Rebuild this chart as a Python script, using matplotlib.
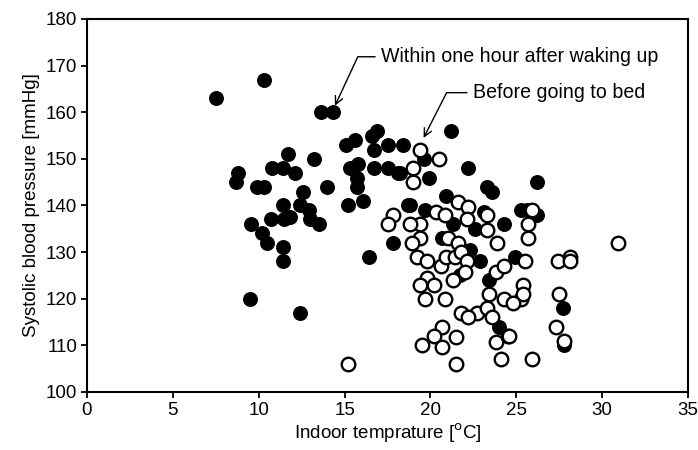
import matplotlib
matplotlib.use("Agg")
import matplotlib.pyplot as plt

plt.rcParams['font.family'] = ['Liberation Sans', 'DejaVu Sans']

# Within one hour after waking up (filled)
wake_x = [7.5, 10.3, 8.8, 8.7, 9.9, 10.3, 10.8, 11.4, 11.7, 11.4, 10.7, 11.5, 9.55, 10.2,
          10.5, 11.4, 11.4, 9.5, 12.4, 13.6, 14.3, 15.6, 16.9, 16.6, 16.7, 17.5, 18.4,
          15.3, 15.8, 16.7, 17.5, 18.1, 15.7, 15.7, 14.0, 13.2, 12.1, 12.6, 12.4, 12.9,
          13.0, 13.5, 11.8, 15.2, 16.1, 16.4, 18.7, 17.8, 19.9, 22.2, 23.3, 23.6, 20.9,
          18.8, 19.7, 24.3, 22.6, 21.3, 20.7, 22.3, 22.9, 24.9, 23.4, 24.0, 23.1, 21.7,
          18.2, 25.6, 26.2, 25.3, 26.2, 27.7, 27.8, 21.2, 15.1, 19.6]
wake_y = [163, 167, 147, 145, 144, 144, 148, 148, 151, 140, 137, 137, 136, 134,
          132, 131, 128, 120, 117, 160, 160, 154, 156, 155, 152, 153, 153,
          148, 149, 148, 148, 147, 146, 144, 144, 150, 147, 143, 140, 139,
          137, 136, 137.5, 140, 141, 129, 140, 132, 146, 148, 144, 143, 142,
          140, 139, 136, 135, 136, 133, 130.5, 128, 129, 124, 114, 138.6, 125,
          147, 139, 145, 139, 138, 118, 110, 156, 153, 150]

# Before going to bed (open)
bed_x = [19.4, 20.5, 19.0, 19.0, 17.8, 17.5, 19.4, 18.8, 19.4, 18.9, 20.3, 20.85, 21.6,
         22.2, 22.1, 23.3, 23.3, 23.9, 21.0, 21.6, 19.2, 19.8, 20.6, 20.9, 21.4, 21.8,
         22.1, 22.0, 19.8, 19.4, 20.2, 21.3, 19.7, 20.85, 23.8, 24.3, 23.4, 24.3, 25.3,
         21.8, 22.7, 22.2, 23.3, 23.6, 20.7, 20.2, 19.5, 20.7, 21.5, 23.8, 24.5, 21.5,
         24.1, 15.2, 25.9, 25.7, 25.7, 25.5, 27.4, 28.1, 28.1, 30.9, 25.4, 25.4, 24.8,
         27.5, 27.3, 27.8, 25.9, 24.6]
bed_y = [152, 150, 148, 145, 138, 136, 136, 136, 133, 132, 138.6, 138, 140.8,
         139.7, 137, 138, 134.8, 132, 133, 132, 129, 128, 127, 129, 129, 130,
         128, 125.7, 124.5, 123, 123, 124, 120, 120, 125.7, 127, 121, 120, 120,
         117, 117, 116, 118, 116, 114, 112, 110, 109.7, 111.8, 110.7, 112, 106,
         107, 106, 139, 136, 133, 128, 128, 129, 128, 132, 123, 121, 119,
         121, 114, 111, 107, 112]

x_ticks = [0, 5, 10, 15, 20, 25, 30, 35]
y_ticks = [100, 110, 120, 130, 140, 150, 160, 170, 180]

FS = 13.5
FS_ANN = 14.1

fig = plt.figure(figsize=(6.98, 4.5), dpi=100)
ax = fig.add_axes([0.1246, 0.1289, 0.8612, 0.8289])

ax.scatter(wake_x, wake_y, s=95, facecolor='black', edgecolor='black', linewidths=1.0, zorder=2)
ax.scatter(bed_x, bed_y, s=95, facecolor='white', edgecolor='black', linewidths=1.7, zorder=3)

ax.set_xlim(0, 35)
ax.set_ylim(100, 180)
ax.set_xticks(x_ticks)
ax.set_yticks(y_ticks)
ax.tick_params(direction='out', length=4, width=1.3, labelsize=FS, colors='black', pad=3)
for sp in ax.spines.values():
    sp.set_linewidth(1.5)

ax.set_xlabel('Indoor temprature [$^{\\rm o}$C]', fontsize=FS, labelpad=2)
ax.set_ylabel('Systolic blood pressure [mmHg]', fontsize=FS, labelpad=4)

# annotations
ax.annotate('Within one hour after waking up', xy=(14.44, 161.4), xytext=(17.1, 171.9),
            fontsize=FS_ANN, va='center', ha='left',
            arrowprops=dict(arrowstyle='->', lw=1.0, color='black',
                            connectionstyle='angle,angleA=180,angleB=65,rad=0',
                            shrinkA=2, shrinkB=0))
ax.annotate('Before going to bed', xy=(19.6, 154.5), xytext=(22.45, 164.2),
            fontsize=FS_ANN, va='center', ha='left',
            arrowprops=dict(arrowstyle='->', lw=1.0, color='black',
                            connectionstyle='angle,angleA=180,angleB=63,rad=0',
                            shrinkA=2, shrinkB=0))

fig.savefig('out.png', dpi=100)
